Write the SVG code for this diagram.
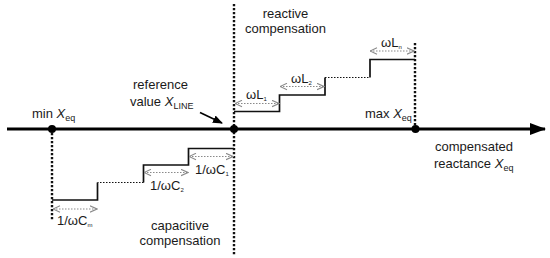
<svg xmlns="http://www.w3.org/2000/svg" width="550" height="258" viewBox="0 0 550 258">
<defs>
<marker id="ah" viewBox="0 0 8 8" refX="7.5" refY="4" markerWidth="8" markerHeight="8" markerUnits="userSpaceOnUse" orient="auto-start-reverse">
<path d="M0.5,0.8 L7.5,4 L0.5,7.2" fill="none" stroke="#8a8a8a" stroke-width="1.1"/>
</marker>
<marker id="axhead" viewBox="0 0 16 12" refX="15" refY="6" markerWidth="16" markerHeight="12" markerUnits="userSpaceOnUse" orient="auto">
<path d="M0,0 L16,6 L0,12 Z" fill="#000"/>
</marker>
<marker id="ptr" viewBox="0 0 10 8" refX="9" refY="4" markerWidth="10" markerHeight="8" markerUnits="userSpaceOnUse" orient="auto">
<path d="M0,0 L10,4 L0,8 Z" fill="#000"/>
</marker>
</defs>
<style>
text{font-family:"Liberation Sans",Arial,sans-serif;font-size:13px;fill:#1a1a1a}
.c{text-anchor:middle}
.sub{font-size:9px}
.tiny{font-size:6px}
.it{font-style:italic}
.vdot{stroke:#111;stroke-width:2.4;stroke-dasharray:2.2 1.8;fill:none}
.step{stroke:#111;stroke-width:1.7;fill:none}
.sdot{stroke:#111;stroke-width:1.2;stroke-dasharray:1.5 1.5;fill:none}
.dim{stroke:#8a8a8a;stroke-width:1.1;stroke-dasharray:1.5 1.5;fill:none;marker-start:url(#ah);marker-end:url(#ah)}
</style>
<g id="connectors">
<line class="vdot" x1="234" y1="4" x2="234" y2="255"/>
<line class="vdot" x1="52" y1="129" x2="52" y2="221"/>
<line class="vdot" x1="415" y1="43" x2="415" y2="129"/>
<line x1="7" y1="129" x2="545" y2="129" stroke="#000" stroke-width="2.8" marker-end="url(#axhead)"/>
<line x1="200" y1="112.5" x2="222" y2="123" stroke="#000" stroke-width="1.6" marker-end="url(#ptr)"/>
<polyline class="step" points="234,111.5 279.5,111.5 279.5,95 325,95 325,77.5"/>
<line class="sdot" x1="325" y1="77.5" x2="370" y2="77.5"/>
<polyline class="step" points="370,77.5 370,59.5 415,59.5"/>
<polyline class="step" points="234,148.5 188.5,148.5 188.5,165 143.5,165 143.5,182.5"/>
<line class="sdot" x1="143.5" y1="182.5" x2="97.5" y2="182.5"/>
<polyline class="step" points="97.5,182.5 97.5,200 52,200"/>
<line class="dim" x1="235" y1="103.5" x2="279" y2="103.5"/>
<line class="dim" x1="280" y1="86.5" x2="324" y2="86.5"/>
<line class="dim" x1="370" y1="51" x2="414" y2="51"/>
<line class="dim" x1="189" y1="156.5" x2="233" y2="156.5"/>
<line class="dim" x1="144" y1="172.5" x2="188" y2="172.5"/>
<line class="dim" x1="53" y1="209" x2="97" y2="209"/>
</g>
<g id="points">
<circle cx="52" cy="129" r="4" fill="#000"/>
<circle cx="234" cy="129" r="4" fill="#000"/>
<circle cx="415.5" cy="129" r="4" fill="#000"/>
</g>
<g id="label-reactive">
<text class="c" x="285.5" y="18">reactive</text>
<text class="c" x="285.5" y="33">compensation</text>
</g>
<g id="label-capacitive">
<text class="c" x="180" y="230">capacitive</text>
<text class="c" x="180" y="245">compensation</text>
</g>
<g id="label-reference">
<text class="c" x="160.5" y="89">reference</text>
<text x="130" y="106">value <tspan class="it">X</tspan><tspan class="sub" dy="3">LINE</tspan></text>
</g>
<g id="label-min">
<text x="32" y="118">min <tspan class="it">X</tspan><tspan class="sub" dy="3">eq</tspan></text>
</g>
<g id="label-max">
<text x="365" y="118">max <tspan class="it">X</tspan><tspan class="sub" dy="3">eq</tspan></text>
</g>
<g id="label-axis">
<text class="c" x="474" y="151">compensated</text>
<text x="434" y="168">reactance <tspan class="it">X</tspan><tspan class="sub" dy="3">eq</tspan></text>
</g>
<g id="dims">
<text x="246" y="99">ωL<tspan class="tiny" dy="2">1</tspan></text>
<text x="291" y="83">ωL<tspan class="tiny" dy="2">2</tspan></text>
<text x="381" y="47">ωL<tspan class="tiny" dy="2">n</tspan></text>
<text x="195" y="174">1/ωC<tspan class="tiny" dy="2">1</tspan></text>
<text x="150" y="190">1/ωC<tspan class="tiny" dy="2">2</tspan></text>
<text x="57" y="225">1/ωC<tspan class="tiny" dy="2">m</tspan></text>
</g>
</svg>
